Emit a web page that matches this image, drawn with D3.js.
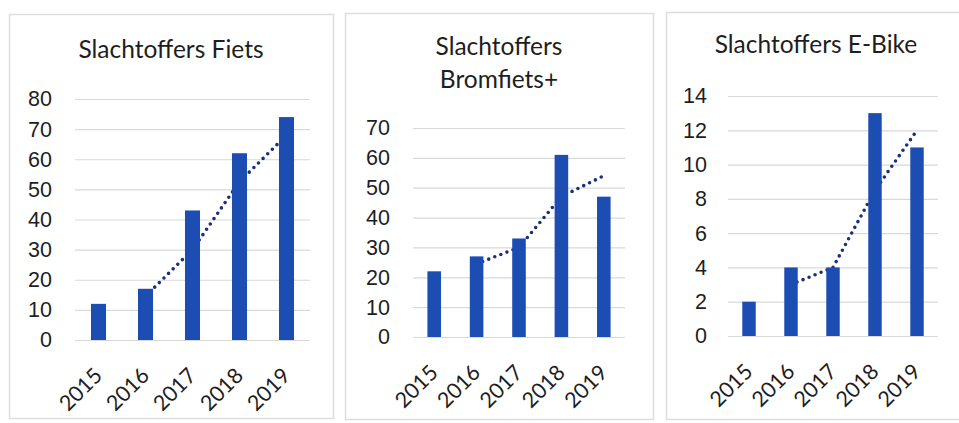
<!DOCTYPE html>
<html>
<head>
<meta charset="utf-8">
<script src="https://cdn.jsdelivr.net/npm/d3@7"></script>
<style>
  body { margin: 0; background: #fff; }
  svg { display: block; font-family: Lato, "Open Sans", sans-serif; }
  .title { fill: #1e1e1e; font-size: 24.5px; text-anchor: middle; }
  .tick-label { fill: #1e1e1e; font-size: 21.5px; }
</style>
</head>
<body>
<script>
// Data
const YEARS      = ['2015', '2016', '2017', '2018', '2019'];
const FIETS      = [12, 17, 43, 62, 74];
const BROMFIETS  = [22, 27, 33, 61, 47];
const EBIKE      = [2, 4, 4, 13, 11];
// dotted trend (2-period moving average shown by the chart), starts at 2016
const FIETS_TREND     = [14.5, 30, 52.5, 68];
const BROMFIETS_TREND = [24.5, 30, 47, 54];
const EBIKE_TREND     = [3, 4, 8.5, 12];
const FIETS_TICKS     = d3.range(0, 81, 10);
const BROMFIETS_TICKS = d3.range(0, 71, 10);
const EBIKE_TICKS     = d3.range(0, 15, 2);

// Colors
const BAR   = '#1c4db3';
const TREND = '#1d2f78';
const GRID  = '#d9d9d9';
const FRAME = '#dedede';

const W = 959, H = 423;

// Panel layout
const panels = [
  { title: ['Slachtoffers Fiets'], titleY: 58, box: [9, 14, 324, 404],
    values: FIETS, trend: FIETS_TREND, ticks: FIETS_TICKS,
    xr: [75, 310], yr: [340, 99], labelX: 52 },
  { title: ['Slachtoffers', 'Bromfiets+'], titleY: 55, box: [345, 13, 308, 406],
    values: BROMFIETS, trend: BROMFIETS_TREND, ticks: BROMFIETS_TICKS,
    xr: [413, 625], yr: [337, 128], labelX: 390 },
  { title: ['Slachtoffers E-Bike'], titleY: 53, box: [666, 12, 300, 407],
    values: EBIKE, trend: EBIKE_TREND, ticks: EBIKE_TICKS,
    xr: [728, 938], yr: [336, 96], labelX: 707 }
];

const svg = d3.select('body').append('svg')
  .attr('width', W)
  .attr('height', H);

function drawPanel(p) {
  const g = svg.append('g');
  const [bx, by, bw, bh] = p.box;

  // Frame
  g.append('rect')
    .attr('x', bx + 0.5).attr('y', by + 0.5)
    .attr('width', bw).attr('height', bh)
    .attr('fill', '#fff')
    .attr('stroke', FRAME)
    .attr('stroke-width', 1.5);

  // Title
  const t = g.append('text')
    .attr('class', 'title')
    .attr('x', bx + bw / 2)
    .attr('y', p.titleY);
  p.title.forEach((line, i) => {
    t.append('tspan')
      .attr('x', bx + bw / 2)
      .attr('dy', i === 0 ? 0 : 33)
      .text(line);
  });

  const x = d3.scaleBand()
    .domain(YEARS)
    .range(p.xr)
    .paddingInner(0.68)
    .paddingOuter(0.34);
  const y = d3.scaleLinear()
    .domain([0, d3.max(p.ticks)])
    .range(p.yr);

  // Gridlines + y labels
  const yAxis = d3.axisLeft(y)
    .tickValues(p.ticks)
    .tickSize(-(p.xr[1] - p.xr[0]))
    .tickPadding(p.xr[0] - p.labelX);
  g.append('g')
    .attr('transform', `translate(${p.xr[0]},0)`)
    .call(yAxis)
    .call(a => a.select('.domain').remove())
    .call(a => a.selectAll('line').attr('stroke', GRID).attr('stroke-width', 1.2))
    .call(a => a.selectAll('text').attr('class', 'tick-label').attr('font-size', null)
      .attr('font-family', null).attr('fill', null));

  // Trend line (behind bars)
  const line = d3.line()
    .x((d, i) => x(YEARS[i + 1]) + x.bandwidth() / 2)
    .y(d => y(d));
  g.append('path')
    .datum(p.trend)
    .attr('d', line)
    .attr('fill', 'none')
    .attr('stroke', TREND)
    .attr('stroke-width', 3.6)
    .attr('stroke-linecap', 'round')
    .attr('stroke-dasharray', '0,6.5');

  // Bars
  g.selectAll('rect.bar')
    .data(p.values)
    .join('rect')
    .attr('class', 'bar')
    .attr('x', (d, i) => x(YEARS[i]))
    .attr('y', d => y(d))
    .attr('width', x.bandwidth())
    .attr('height', d => y(0) - y(d))
    .attr('fill', BAR);

  // X labels, rotated
  g.selectAll('text.xl')
    .data(YEARS)
    .join('text')
    .attr('class', 'tick-label xl')
    .attr('text-anchor', 'end')
    .attr('transform', d => `translate(${x(d) + x.bandwidth() / 2 + 5},${y(0) + 37}) rotate(-45)`)
    .text(d => d);
}

panels.forEach(drawPanel);
</script>
</body>
</html>
